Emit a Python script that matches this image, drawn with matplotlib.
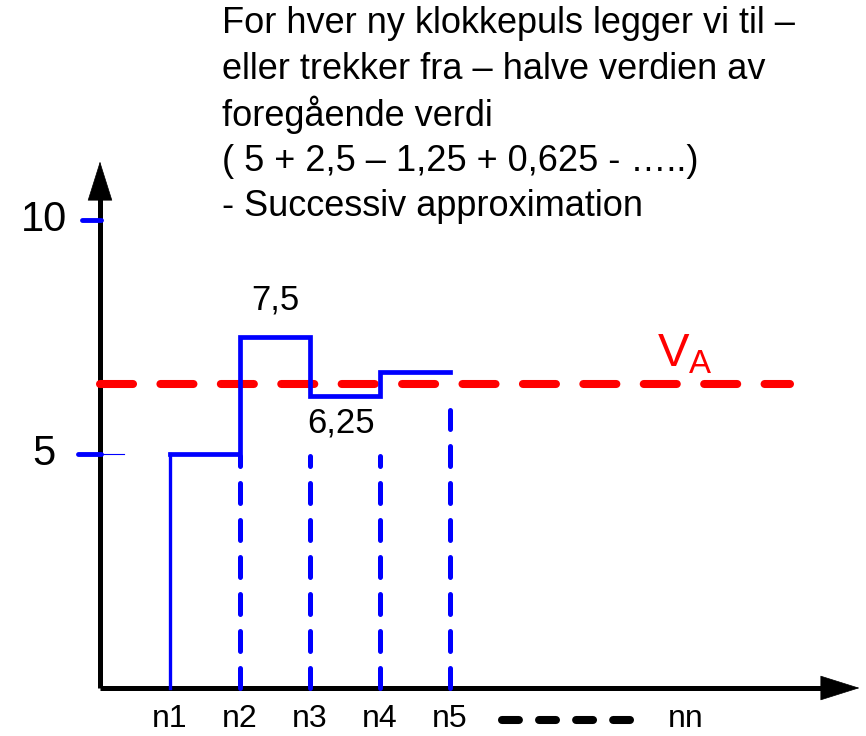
import matplotlib

matplotlib.use("Agg")
import matplotlib.pyplot as plt

plt.rcParams["font.family"] = ["Liberation Sans", "DejaVu Sans"]

# clock pulses and the successive approximation steps
pulse_labels = ["n1", "n2", "n3", "n4", "n5"]
pulse_x = [1, 2, 3, 4, 5]
step_values = [5, 7.5, 6.25, 6.75]
dashed_tops = [5, 5, 5, 6]  # dashed markers at n2..n5
v_a = 6.5
y_ticks = [10, 5]
note_lines = [
    "For hver ny klokkepuls legger vi til \u2013",
    "eller trekker fra \u2013 halve verdien av",
    "foregående verdi",
    "( 5 + 2,5 \u2013 1,25 + 0,625 - \u2026..)",
    "- Successiv approximation",
]

BLUE = "#0000ff"
RED = "#ff0000"

fig = plt.figure(figsize=(8.66, 7.36), dpi=100)
ax = fig.add_axes([0, 0, 1, 1])
# 70 px per pulse, 46.8 px per unit, origin at pixel (100, 688)
ax.set_xlim(-100 / 70, 766 / 70)
ax.set_ylim(-48 / 46.8, 688 / 46.8)
ax.axis("off")

# axes with arrow heads
head = dict(arrowstyle="-|>,head_length=2.7,head_width=0.85",
            color="black", lw=0.5, shrinkA=0, shrinkB=0)
ax.plot([0, 0], [0, 10.5], color="black", lw=3.6, solid_capstyle="butt")
ax.annotate("", xy=(0, 11.25), xytext=(0, 10.4), arrowprops=head)
ax.plot([0, 10.4], [0, 0], color="black", lw=3.6, solid_capstyle="butt")
ax.annotate("", xy=(10.85, 0), xytext=(10.2, 0), arrowprops=head)

# y ticks
ax.plot([-0.26, 0.02], [10, 10], color=BLUE, lw=3.5, solid_capstyle="round")
ax.plot([-0.31, 0.02], [5, 5], color=BLUE, lw=3.5, solid_capstyle="round")
ax.plot([0, 0.34], [5, 5], color=BLUE, lw=0.8)
for val in y_ticks:
    ax.text(-0.8, val, str(val), fontsize=30, ha="center", va="center")

# V_A reference level
ax.plot([0, 9.85], [v_a, v_a], color=RED, lw=5.8, ls=(0, (4.1, 3.4)),
        dash_capstyle="round")
ax.text(8.35, v_a + 0.15, r"$\mathregular{V_A}$", color=RED, fontsize=34,
        ha="center", va="bottom")

# step waveform
xs = [pulse_x[0], pulse_x[0]]
ys = [0, step_values[0]]
for i, val in enumerate(step_values):
    xs += [pulse_x[i], pulse_x[i + 1]]
    ys += [val, val]
ax.plot(xs[:2], ys[:2], color=BLUE, lw=2.4)
ax.plot(xs[1:], ys[1:], color=BLUE, lw=3.4, solid_joinstyle="miter")

for x, top in zip(pulse_x[1:], dashed_tops):
    ax.plot([x, x], [0, top - 0.05], color=BLUE, lw=3.6, ls=(0, (4.0, 3.4)),
            dash_capstyle="round")

ax.text(2.5, 8.3, "7,5", fontsize=25, ha="center", va="center")
ax.text(3.45, 5.67, "6,25", fontsize=25, ha="center", va="center")

# x labels
for x, lab in zip(pulse_x, pulse_labels):
    ax.text(x, -0.98, lab, fontsize=23, ha="center", va="bottom")
ax.plot([5.74, 7.57], [-0.68, -0.68], color="black", lw=5.8,
        ls=(0, (2.1, 2.5)), dash_capstyle="round")
ax.text(8.37, -0.98, "nn", fontsize=23, ha="center", va="bottom")

# explanation text
for i, line in enumerate(note_lines):
    ax.text(1.74, 14.2 - i * 0.98, line, fontsize=26, ha="left",
            va="center")

fig.savefig("out.png", dpi=100)
